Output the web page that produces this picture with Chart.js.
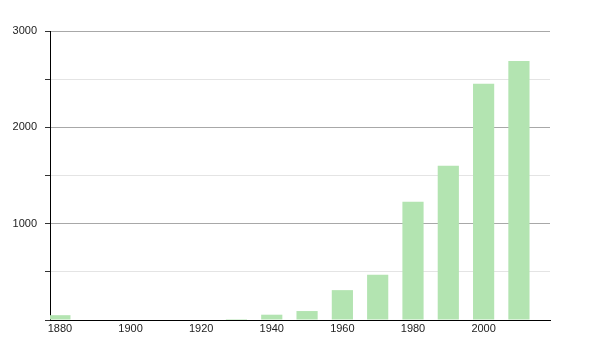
<!DOCTYPE html>
<html>
<head>
<meta charset="utf-8">
<script src="https://cdn.jsdelivr.net/npm/chart.js@4"></script>
<style>
html,body{margin:0;padding:0;background:#fff;}
#wrap{width:600px;height:350px;}
</style>
</head>
<body>
<div id="wrap"><canvas id="c" width="600" height="350"></canvas></div>
<script>
const years = [1880,1890,1900,1910,1920,1930,1940,1950,1960,1970,1980,1990,2000,2010];
const population = [50,0,0,0,0,10,55,93,310,470,1228,1600,2453,2689];
const xTickLabels = [1880,1900,1920,1940,1960,1980,2000];
const yTickLabels = [1000,2000,3000];

const data = years.map((y,i)=>({x:y,y:population[i]}));

new Chart(document.getElementById('c'),{
  type:'bar',
  data:{datasets:[{data:data,backgroundColor:'#b3e4b1',borderWidth:0,barPercentage:0.6,categoryPercentage:1}]},
  options:{
    responsive:false,
    animation:false,
    events:[],
    layout:{padding:{left:0,right:50,top:31,bottom:0}},
    plugins:{legend:{display:false},tooltip:{enabled:false}},
    scales:{
      x:{
        type:'linear',
        offset:false,
        min:1877.2,max:2018.8,
        afterBuildTicks:(s)=>{s.ticks=xTickLabels.map(v=>({value:v}));},
        afterFit:(s)=>{s.height=30;},
        grid:{display:false},
        border:{display:true,color:'#000',width:1},
        ticks:{color:'#222',font:{family:'Liberation Sans, Arial',size:11},padding:-6,maxRotation:0,autoSkip:false,callback:(v)=>String(v)}
      },
      y:{
        min:0,max:3000,
        afterFit:(s)=>{s.width=50;},
        afterBuildTicks:(s)=>{s.ticks=[0,500,1000,1500,2000,2500,3000].map(v=>({value:v}));},
        grid:{
          color:(ctx)=>ctx.tick && ctx.tick.value%1000===0 ? '#a8a8a8' : '#e4e4e4',
          tickColor:'#333',
          tickLength:5,
          drawTicks:true
        },
        border:{display:true,color:'#000',width:1},
        ticks:{color:'#222',font:{family:'Liberation Sans, Arial',size:11},padding:8,
          callback:(v)=>yTickLabels.includes(v)?String(v):''}
      }
    }
  }
});
</script>
</body>
</html>
